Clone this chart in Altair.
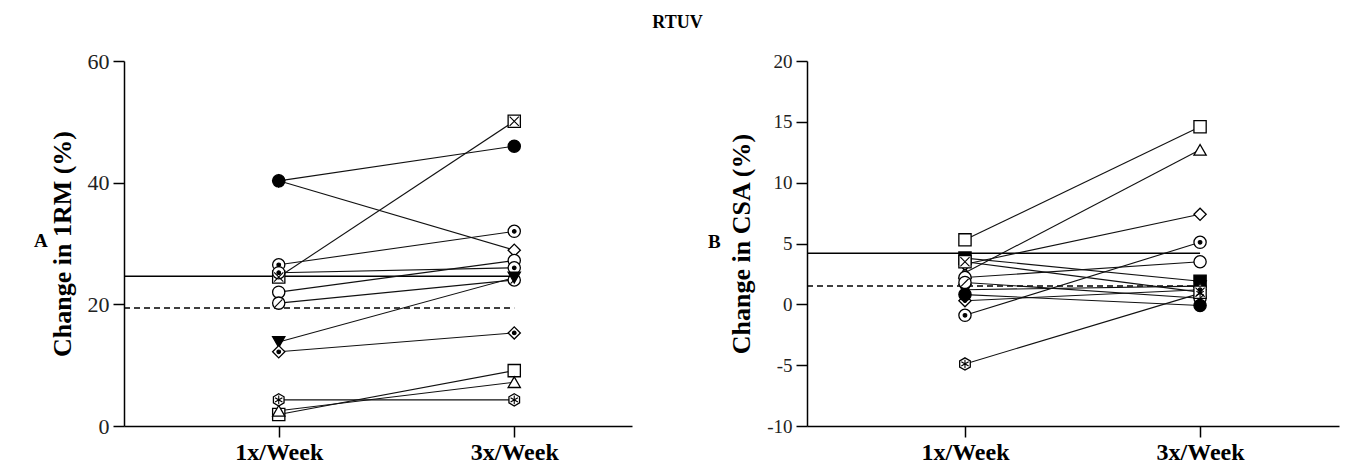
import altair as alt
import pandas as pd

weeks = [1, 2]
week_labels = ["1x/Week", "3x/Week"]

# Panel A: change in 1RM (%)
a_markers = ["open_diamond", "filled_circle", "square_x", "circle_dot", "open_circle",
             "circle_slash", "circle_dot", "filled_tri_down", "diamond_dot",
             "open_square", "open_triangle", "flower"]
a_1x = [40.3, 40.3, 24.5, 26.5, 22.0, 20.2, 25.2, 13.8, 12.2, 1.9, 2.5, 4.3]
a_3x = [28.9, 46.0, 50.1, 32.0, 27.2, 24.0, 26.0, 24.4, 15.3, 9.1, 7.2, 4.3]
a_ref = [24.6, 19.4]

# Panel B: change in CSA (%)
b_markers = ["open_square", "open_triangle", "open_diamond", "circle_dot", "open_circle",
             "filled_square", "filled_tri_down", "diamond_dot", "flower",
             "circle_slash", "filled_circle", "square_x"]
b_1x = [5.3, 2.6, 3.3, -0.9, 2.2, 3.8, 1.2, 0.3, -4.9, 1.8, 0.8, 3.5]
b_3x = [14.6, 12.7, 7.4, 5.1, 3.5, 1.9, 1.5, 1.2, 0.9, 0.5, -0.1, 1.0]
b_ref = [4.2, 1.5]

HEX = "M0,-1L0.866,-0.5L0.866,0.5L0,1L-0.866,0.5L-0.866,-0.5Z"
STYLE = {
    "filled_circle": ("circle", "black", "none"),
    "open_circle": ("circle", "white", "none"),
    "circle_dot": ("circle", "white", "dot"),
    "circle_slash": ("circle", "white", "slash"),
    "open_diamond": ("diamond", "white", "none"),
    "diamond_dot": ("diamond", "white", "dot"),
    "square_x": ("square", "white", "x"),
    "open_square": ("square", "white", "none"),
    "filled_square": ("square", "black", "none"),
    "open_triangle": ("triangle-up", "white", "none"),
    "filled_tri_down": ("triangle-down", "black", "none"),
    "flower": (HEX, "white", "star"),
}
INNER = {
    "dot": "M0.3,0A0.3,0.3 0 1,1 -0.3,0A0.3,0.3 0 1,1 0.3,0Z",
    "slash": "M-0.6,0.6L0.6,-0.6",
    "x": "M-0.75,-0.75L0.75,0.75M-0.75,0.75L0.75,-0.75",
    "star": "M0,-0.7L0,0.7M-0.6,-0.35L0.6,0.35M-0.6,0.35L0.6,-0.35",
}

FONT = "Liberation Serif"


def build(markers, v1, v3):
    rows = []
    for i, m in enumerate(markers):
        shp, fill, inner = STYLE[m]
        for w, v in zip(weeks, [v1[i], v3[i]]):
            rows.append({"subj": i, "week": w, "val": v, "shp": shp, "fill": fill,
                         "inner": INNER.get(inner, "none")})
    return pd.DataFrame(rows)


def panel(markers, v1, v3, refs, xdom, ydom, yticks, ytitle, letter, width, height,
          ylab_size, letter_x, letter_y, title_pad):
    df = build(markers, v1, v3)
    refdf = pd.DataFrame({"week": [xdom[0], xdom[0]], "week2": [2, 2], "val": refs,
                          "dash": ["solid", "dashed"]})
    xs = alt.Scale(domain=xdom, nice=False, zero=False)
    ys = alt.Scale(domain=ydom, nice=False, zero=False)
    xax = alt.Axis(values=weeks, title=None, grid=False,
                   labelExpr="datum.value == 1 ? '" + week_labels[0] + "' : '" + week_labels[1] + "'",
                   labelFont=FONT, labelFontWeight="bold", labelFontSize=24, labelColor="black",
                   labelPadding=3, tickSize=11, tickColor="black", tickWidth=1.5,
                   domainColor="black", domainWidth=1.5)
    yax = alt.Axis(values=yticks, title=ytitle, grid=False, labelFont=FONT,
                   labelExpr="'' + datum.value",
                   labelFontSize=ylab_size, labelColor="#222", labelPadding=4,
                   tickSize=11, tickColor="black", tickWidth=1.5, domainColor="black",
                   domainWidth=1.5, titleFont=FONT, titleFontWeight="bold",
                   titleFontSize=26, titleColor="black", titlePadding=title_pad)
    X = alt.X("week:Q", scale=xs, axis=xax)
    Y = alt.Y("val:Q", scale=ys, axis=yax)

    rules = alt.Chart(refdf).mark_rule(color="black", strokeWidth=1.5).encode(
        x=X, x2="week2:Q", y=Y,
        strokeDash=alt.StrokeDash("dash:N", scale=alt.Scale(domain=["solid", "dashed"],
                                                            range=[[1, 0], [6, 4]]), legend=None))
    lines = alt.Chart(df).mark_line(color="#111", strokeWidth=1.1).encode(
        x=X, y=Y, detail="subj:N")
    pts = alt.Chart(df).mark_point(filled=True, stroke="black", strokeWidth=1.3,
                                   size=150, opacity=1).encode(
        x=X, y=Y,
        shape=alt.Shape("shp:N", scale=None),
        fill=alt.Fill("fill:N", scale=None))
    inner = alt.Chart(df).transform_filter("datum.inner != 'none'").mark_point(
        filled=True, fill="black", stroke="black", strokeWidth=1.1, size=150, opacity=1).encode(
        x=X, y=Y, shape=alt.Shape("inner:N", scale=None))
    lab = alt.Chart(pd.DataFrame({"t": [letter]})).mark_text(
        font=FONT, fontWeight="bold", fontSize=19, align="left", baseline="middle",
        color="black").encode(x=alt.value(letter_x), y=alt.value(letter_y), text="t:N")
    return alt.layer(rules, lines, pts, inner, lab).properties(
        width=width, height=height, view=alt.ViewBackground(stroke="transparent", strokeWidth=0))


pa = panel(a_markers, a_1x, a_3x, a_ref, [0.343, 2.5], [0, 60], [0, 20, 40, 60],
           "Change in 1RM (%)", "A", 508, 365, 22, -90, 180, 12)
pb = panel(b_markers, b_1x, b_3x, b_ref, [0.328, 2.591], [-10, 20],
           [-10, -5, 0, 5, 10, 15, 20], "Change in CSA (%)", "B", 532, 365, 19, -99, 181, 12)

chart = alt.hconcat(pa, pb, spacing=76).properties(
    title=alt.TitleParams("RTUV", anchor="middle", font=FONT, fontWeight="bold",
                          fontSize=18, color="black", offset=18, dx=-9),
    padding={"left": 34, "right": 21, "top": 14, "bottom": 0},
).configure_view(stroke="transparent", strokeWidth=0).configure(background="white")

chart.save("out.html", embed_options={"renderer": "svg", "actions": False})
